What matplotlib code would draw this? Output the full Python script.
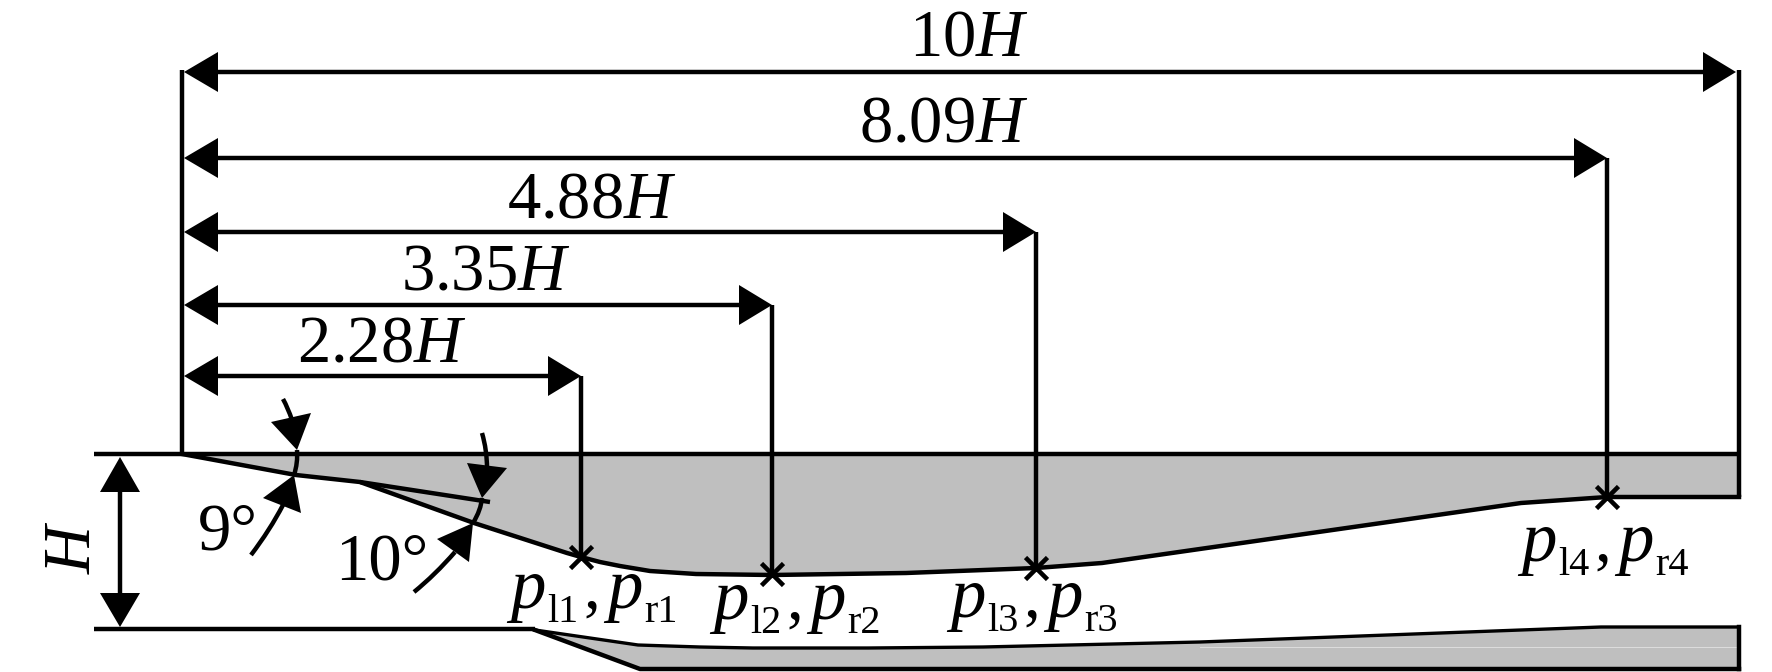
import matplotlib
matplotlib.use("Agg")
import matplotlib.pyplot as plt
from matplotlib.path import Path
from matplotlib.patches import PathPatch

plt.rcParams['font.family'] = ['Liberation Serif', 'DejaVu Serif']
plt.rcParams['mathtext.fontset'] = 'custom'
plt.rcParams['mathtext.rm'] = 'Liberation Serif'
plt.rcParams['mathtext.it'] = 'Liberation Serif:italic'

# everything in pixels
x_start = 182
y_top = 454
y_bottom = 629

dim_labels = ["10", "8.09", "4.88", "3.35", "2.28"]
dim_y = [72, 158, 232, 305, 376]
dim_x_end = [1736, 1607, 1036, 772, 581]
dim_label_x = [969, 944, 592, 486, 382]
dim_label_y = [56, 142, 217, 290, 362]

# upper wall
upper_x = [182, 296, 360, 474, 567, 581, 600, 620, 650, 696, 772, 906, 1036, 1102, 1521, 1607, 1739]
upper_y = [454, 475, 482, 523, 553, 557, 562, 566, 571, 574, 575, 573, 568, 563, 503, 497, 497]

# lower wall
lower_x = [535, 590, 638, 700, 753, 868, 983, 1200, 1601, 1739]
lower_y = [630, 638, 645, 647, 648, 648, 647, 642, 627, 627]
lower_under_x = [535, 640, 1739]
lower_under_y = [630, 669, 669]

# measurement points
probe_x = [581, 772, 1036, 1607]
probe_y = [557, 574, 568, 497]
probe_stem_top = [376, 305, 232, 158]
probe_numbers = ["1", "2", "3", "4"]
probe_label_x = [510, 713, 950, 1521]
probe_label_y = [608, 619, 617, 561]

line_w = 3.2
grey = "#bfbfbf"

fig = plt.figure(figsize=(17.72, 6.72), dpi=100)
ax = fig.add_axes([0, 0, 1, 1])
ax.set_xlim(0, 1772)
ax.set_ylim(672, 0)
ax.axis("off")


def head(tip, base1, base2):
    ax.fill([tip[0], base1[0], base2[0]], [tip[1], base1[1], base2[1]], color="k", lw=0, zorder=5)


def curve(p0, ctrl, p1):
    path = Path([p0, ctrl, p1], [Path.MOVETO, Path.CURVE3, Path.CURVE3])
    ax.add_patch(PathPatch(path, fc="none", ec="k", lw=line_w, zorder=4))


# grey solid parts
ax.fill_between(upper_x, y_top, upper_y, color=grey, lw=0)
ax.fill(lower_x + lower_under_x[::-1], lower_y + lower_under_y[::-1], color=grey, lw=0)
ax.plot([1200, 1737], [647, 647], color="#dddddd", lw=0.7)

# walls
ax.plot([94, 1741], [y_top, y_top], color="k", lw=line_w, solid_capstyle="butt")
ax.plot([94, 535], [y_bottom, y_bottom], color="k", lw=line_w, solid_capstyle="butt")
ax.plot(upper_x, upper_y, color="k", lw=line_w, solid_joinstyle="round")
ax.plot(lower_x, lower_y, color="k", lw=2.4)
ax.plot(lower_under_x, lower_under_y, color="k", lw=line_w)
ax.plot([1739, 1739], [627, 669], color="k", lw=line_w)
ax.plot([360, 490], [482, 502], color="k", lw=line_w, solid_capstyle="butt")

# extension lines
ax.plot([x_start, x_start], [70, y_top], color="k", lw=line_w, solid_capstyle="butt")
ax.plot([1739, 1739], [70, 497], color="k", lw=line_w, solid_capstyle="butt")
for i in range(len(probe_x)):
    ax.plot([probe_x[i], probe_x[i]], [probe_stem_top[i], probe_y[i]], color="k", lw=line_w, solid_capstyle="butt")
    ax.plot(probe_x[i], probe_y[i], marker="x", ms=15.5, mew=3.3, color="k", zorder=6)

# horizontal dimensions
for i in range(len(dim_labels)):
    y = dim_y[i]
    ax.plot([x_start + 20, dim_x_end[i] - 20], [y, y], color="k", lw=line_w, solid_capstyle="butt")
    head((x_start + 2, y), (218, y - 20), (218, y + 20))
    head((dim_x_end[i], y), (dim_x_end[i] - 33, y - 20), (dim_x_end[i] - 33, y + 20))
    ax.text(dim_label_x[i], dim_label_y[i], dim_labels[i] + r"$\mathit{H}$", fontsize=48,
            ha="center", va="baseline")

# H dimension
ax.plot([120, 120], [480, 600], color="k", lw=line_w, solid_capstyle="butt")
head((120, 457), (100, 492), (140, 492))
head((120, 627), (100, 593), (140, 593))
ax.text(104, 547, r"$\mathit{H}$", fontsize=48, rotation=90, ha="right", va="center")

# 9 degree angle
curve((283, 399), (288, 408), (292, 420))
head((297, 450), (271, 422), (311, 413))
curve((297, 450), (298, 463), (294, 475))
head((294, 475), (263, 498), (301, 513))
curve((283, 505), (270, 530), (251, 555))
ax.text(198, 549, "9°", fontsize=48, ha="left", va="baseline")

# 10 degree angle
curve((482, 433), (487, 450), (487, 468))
head((482, 498), (467, 463), (507, 468))
curve((482, 498), (481, 510), (473, 523))
head((473, 523), (437, 539), (469, 562))
curve((455, 552), (435, 575), (414, 592))
ax.text(335, 580, "10°", fontsize=48, ha="left", va="baseline")

# probe labels, pieces placed one by one since the subscript sits low
for i in range(len(probe_numbers)):
    x = probe_label_x[i]
    y = probe_label_y[i]
    ax.text(x, y, "p", fontsize=51, style="italic", ha="left", va="baseline")
    ax.text(x + 37, y + 14, "l" + probe_numbers[i], fontsize=29, ha="left", va="baseline")
    ax.text(x + 73, y, ",", fontsize=48, ha="left", va="baseline")
    ax.text(x + 97, y, "p", fontsize=51, style="italic", ha="left", va="baseline")
    ax.text(x + 134, y + 14, "r" + probe_numbers[i], fontsize=29, ha="left", va="baseline")

fig.savefig("out.png", dpi=100)
